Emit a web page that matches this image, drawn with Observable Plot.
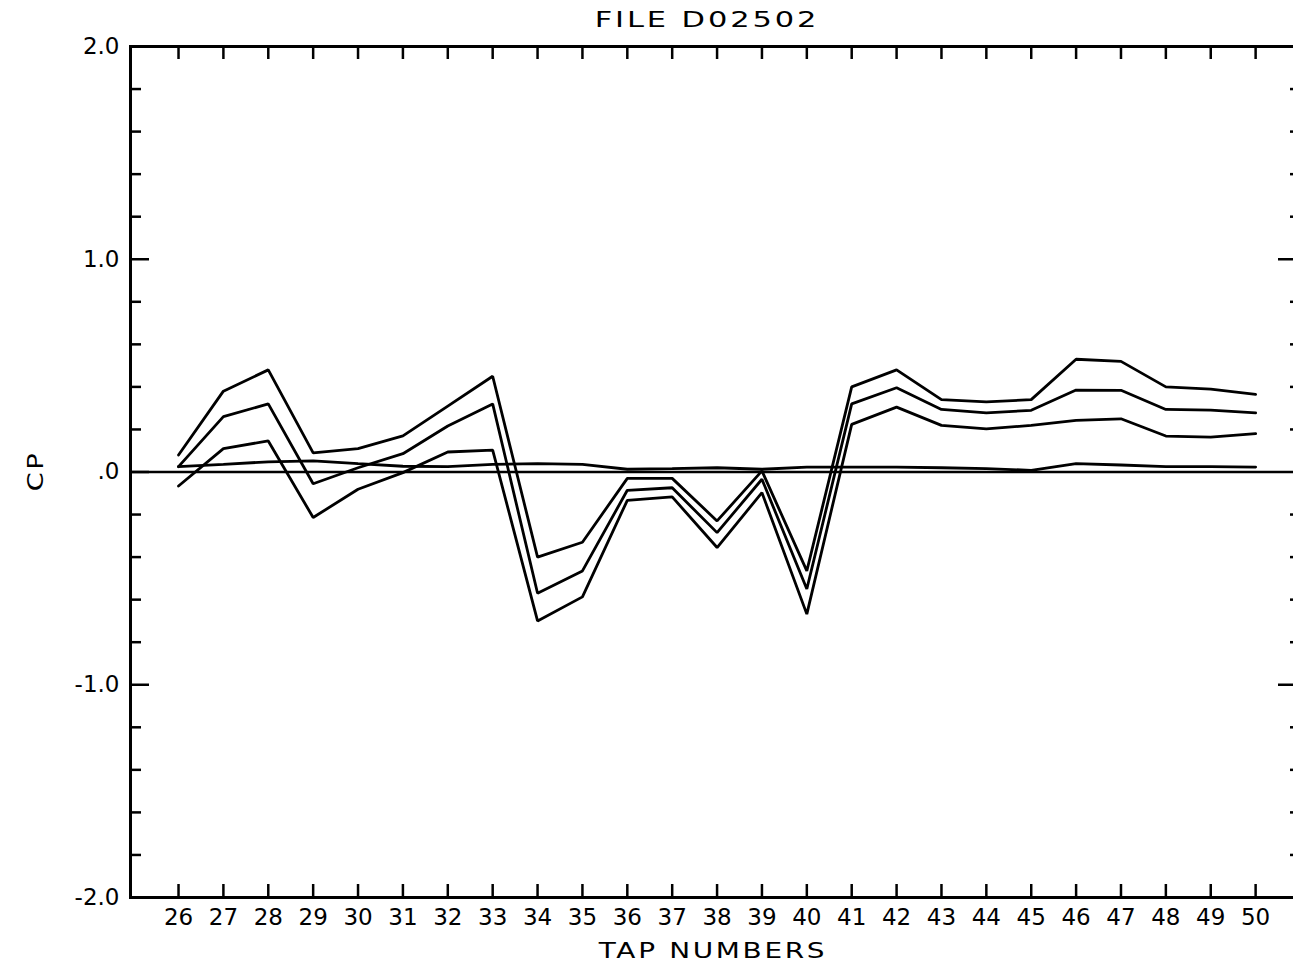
<!DOCTYPE html>
<html><head><meta charset="utf-8">
<script src="https://cdn.jsdelivr.net/npm/d3@7"></script>
<script src="https://cdn.jsdelivr.net/npm/@observablehq/plot@0.6"></script>
<style>
html,body{margin:0;padding:0;background:#fff;overflow:hidden}
#wrap{position:relative;width:1293px;height:967px;overflow:hidden;font-family:"DejaVu Sans",sans-serif;color:#000;background:#fff}
#chart{position:absolute;left:0;top:0;width:1300px}
.lbl{position:absolute;white-space:nowrap;font-size:21px;line-height:21px;letter-spacing:2px}
</style></head><body>
<div id="wrap">
<div id="chart"></div>
<div id="title" class="lbl" style="left:707px;top:20px;transform:translate(-50%,-50%) scaleX(1.45)">FILE D02502</div>
<div id="xlabel" class="lbl" style="left:713px;top:951px;transform:translate(-50%,-50%) scaleX(1.33)">TAP NUMBERS</div>
<div id="ylabel" class="lbl" style="left:36px;top:471px;transform:translate(-50%,-50%) rotate(-90deg) scaleX(1.3)">CP</div>
</div>
<script>
// ---- data ----
const taps = [26,27,28,29,30,31,32,33,34,35,36,37,38,39,40,41,42,43,44,45,46,47,48,49,50];
const cpMax  = [0.08, 0.38, 0.48, 0.09, 0.11, 0.17, 0.31, 0.45, -0.40, -0.33, -0.03, -0.03, -0.23, 0.005, -0.465, 0.40, 0.48, 0.34, 0.33, 0.34, 0.53, 0.52, 0.40, 0.39, 0.365];
const cpMean = [0.025, 0.26, 0.32, -0.055, 0.02, 0.086, 0.216, 0.32, -0.57, -0.465, -0.086, -0.074, -0.285, -0.034, -0.55, 0.32, 0.396, 0.294, 0.278, 0.29, 0.385, 0.384, 0.294, 0.291, 0.278];
const cpMin  = [-0.066, 0.11, 0.146, -0.214, -0.081, -0.003, 0.094, 0.103, -0.70, -0.587, -0.133, -0.117, -0.355, -0.097, -0.668, 0.224, 0.305, 0.219, 0.203, 0.219, 0.243, 0.25, 0.169, 0.164, 0.18];
const cpRms  = [0.025, 0.036, 0.048, 0.052, 0.039, 0.027, 0.025, 0.036, 0.039, 0.036, 0.013, 0.016, 0.02, 0.013, 0.023, 0.023, 0.023, 0.02, 0.016, 0.008, 0.039, 0.033, 0.025, 0.025, 0.023];
const yMajorTicks  = [-2, -1, 0, 1, 2];
const yMajorLabels = ["-2.0", "-1.0", ".0", "1.0", "2.0"];
const yMinorTicks  = [-1.8,-1.6,-1.4,-1.2,-0.8,-0.6,-0.4,-0.2,0.2,0.4,0.6,0.8,1.2,1.4,1.6,1.8];
const yRightMajor  = [-1, 1];

const seriesList = [["max", cpMax], ["mean", cpMean], ["min", cpMin], ["rms", cpRms]];
const rows = seriesList.flatMap(([name, vals]) => taps.map((t, i) => ({tap: t, cp: vals[i], series: name})));

// ---- layout ----
const W = 1300, H = 967, mL = 130, mR = 0, mT = 46, mB = 70;
const plotW = W - mL - mR, plotH = H - mT - mB;

const chart = Plot.plot({
  width: W, height: H,
  marginLeft: mL, marginRight: mR, marginTop: mT, marginBottom: mB,
  x: {domain: [24.93, 51], axis: null},
  y: {domain: [-2, 2], axis: null},
  style: "max-width:none;background:#fff;color:#000;font-family:'DejaVu Sans',sans-serif;font-size:23px;overflow:hidden",
  marks: [
    Plot.frame({stroke: "#000", strokeWidth: 3}),
    Plot.ruleX(taps, {x: d => d, insetTop: plotH - 13, stroke: "#000", strokeWidth: 2.5}),
    Plot.ruleX(taps, {x: d => d, insetBottom: plotH - 13, stroke: "#000", strokeWidth: 2.5}),
    Plot.ruleY(yMajorTicks, {y: d => d, insetRight: plotW - 19, stroke: "#000", strokeWidth: 2.5}),
    Plot.ruleY(yMinorTicks, {y: d => d, insetRight: plotW - 11, stroke: "#000", strokeWidth: 2.5}),
    Plot.ruleY(yRightMajor, {y: d => d, insetLeft: plotW - 22, stroke: "#000", strokeWidth: 2.5}),
    Plot.ruleY(yMinorTicks, {y: d => d, insetLeft: plotW - 10, stroke: "#000", strokeWidth: 2.5}),
    Plot.ruleY([0], {stroke: "#000", strokeWidth: 2.5}),
    Plot.line(rows, {x: "tap", y: "cp", z: "series", stroke: "#000", strokeWidth: 2.8, strokeLinejoin: "miter"}),
    Plot.text(taps, {x: d => d, frameAnchor: "bottom", dy: 27, text: d => String(d), fontSize: 23, fill: "#000"}),
    Plot.text(yMajorTicks, {y: d => d, frameAnchor: "left", dx: -11, textAnchor: "end", text: (d, i) => yMajorLabels[i], fontSize: 23, fill: "#000"})
  ]
});
document.getElementById("chart").appendChild(chart);
</script>
</body></html>
